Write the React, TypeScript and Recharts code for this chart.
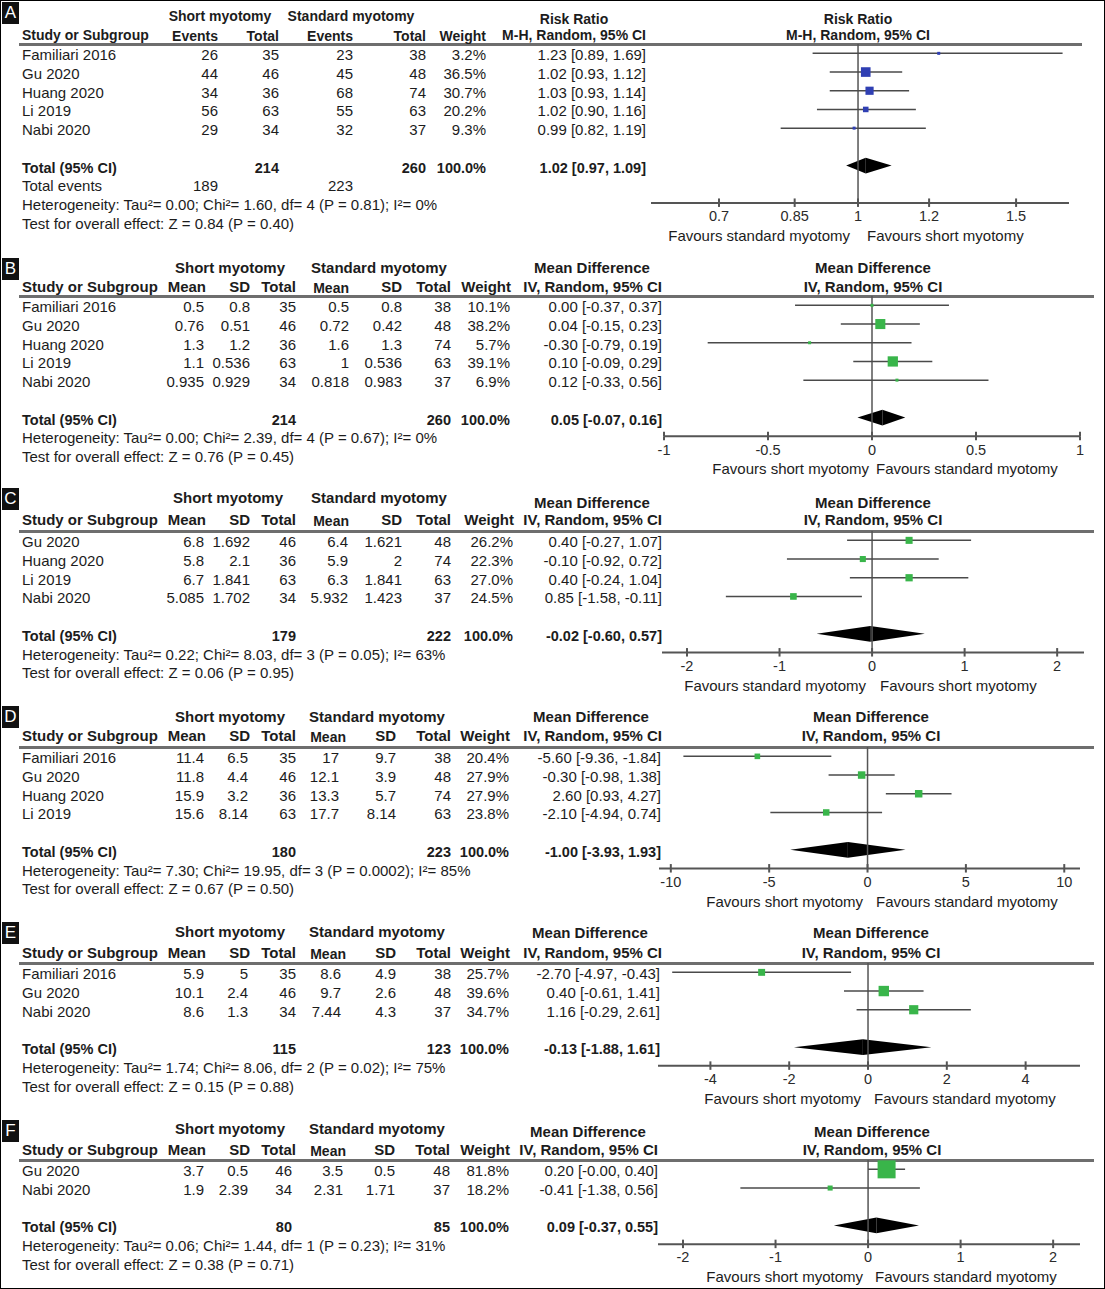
import React from "react";
import {
  ComposedChart,
  XAxis,
  YAxis,
  Scatter,
  ErrorBar,
  ReferenceLine,
  ReferenceArea
} from "recharts";

const FONT = '"Liberation Sans", Arial, Helvetica, sans-serif';
const STEP = 18.7;

// ---------- A: risk ratio ----------
const studiesA = ["Familiari 2016", "Gu 2020", "Huang 2020", "Li 2019", "Nabi 2020"];
const shortEventsA = [26, 44, 34, 56, 29];
const shortTotalA = [35, 46, 36, 63, 34];
const stdEventsA = [23, 45, 68, 55, 32];
const stdTotalA = [38, 48, 74, 63, 37];
const weightA = [3.2, 36.5, 30.7, 20.2, 9.3];
const estA = [1.23, 1.02, 1.03, 1.02, 0.99];
const loA = [0.89, 0.93, 0.93, 0.9, 0.82];
const hiA = [1.69, 1.12, 1.14, 1.16, 1.19];
const ciTextA = ["1.23 [0.89, 1.69]", "1.02 [0.93, 1.12]", "1.03 [0.93, 1.14]", "1.02 [0.90, 1.16]", "0.99 [0.82, 1.19]"];
const totalA = { n1: 214, n2: 260, ev1: 189, ev2: 223, est: 1.02, lo: 0.97, hi: 1.09, text: "1.02 [0.97, 1.09]" };
const hetA = "Heterogeneity: Tau²= 0.00; Chi²= 1.60, df= 4 (P = 0.81); I²= 0%";
const testA = "Test for overall effect: Z = 0.84 (P = 0.40)";
const ticksA = [0.7, 0.85, 1, 1.2, 1.5];

// ---------- B ----------
const studiesB = ["Familiari 2016", "Gu 2020", "Huang 2020", "Li 2019", "Nabi 2020"];
const mean1B = ["0.5", "0.76", "1.3", "1.1", "0.935"];
const sd1B = ["0.8", "0.51", "1.2", "0.536", "0.929"];
const n1B = [35, 46, 36, 63, 34];
const mean2B = ["0.5", "0.72", "1.6", "1", "0.818"];
const sd2B = ["0.8", "0.42", "1.3", "0.536", "0.983"];
const n2B = [38, 48, 74, 63, 37];
const weightB = [10.1, 38.2, 5.7, 39.1, 6.9];
const estB = [0.0, 0.04, -0.3, 0.1, 0.12];
const loB = [-0.37, -0.15, -0.79, -0.09, -0.33];
const hiB = [0.37, 0.23, 0.19, 0.29, 0.56];
const ciTextB = ["0.00 [-0.37, 0.37]", "0.04 [-0.15, 0.23]", "-0.30 [-0.79, 0.19]", "0.10 [-0.09, 0.29]", "0.12 [-0.33, 0.56]"];
const totalB = { n1: 214, n2: 260, est: 0.05, lo: -0.07, hi: 0.16, text: "0.05 [-0.07, 0.16]" };
const hetB = "Heterogeneity: Tau²= 0.00; Chi²= 2.39, df= 4 (P = 0.67); I²= 0%";
const testB = "Test for overall effect: Z = 0.76 (P = 0.45)";
const ticksB = [-1, -0.5, 0, 0.5, 1];

// ---------- C ----------
const studiesC = ["Gu 2020", "Huang 2020", "Li 2019", "Nabi 2020"];
const mean1C = ["6.8", "5.8", "6.7", "5.085"];
const sd1C = ["1.692", "2.1", "1.841", "1.702"];
const n1C = [46, 36, 63, 34];
const mean2C = ["6.4", "5.9", "6.3", "5.932"];
const sd2C = ["1.621", "2", "1.841", "1.423"];
const n2C = [48, 74, 63, 37];
const weightC = [26.2, 22.3, 27.0, 24.5];
const estC = [0.4, -0.1, 0.4, -0.85];
const loC = [-0.27, -0.92, -0.24, -1.58];
const hiC = [1.07, 0.72, 1.04, -0.11];
const ciTextC = ["0.40 [-0.27, 1.07]", "-0.10 [-0.92, 0.72]", "0.40 [-0.24, 1.04]", "0.85 [-1.58, -0.11]"];
const totalC = { n1: 179, n2: 222, est: -0.02, lo: -0.6, hi: 0.57, text: "-0.02 [-0.60, 0.57]" };
const hetC = "Heterogeneity: Tau²= 0.22; Chi²= 8.03, df= 3 (P = 0.05); I²= 63%";
const testC = "Test for overall effect: Z = 0.06 (P = 0.95)";
const ticksC = [-2, -1, 0, 1, 2];

// ---------- D ----------
const studiesD = ["Familiari 2016", "Gu 2020", "Huang 2020", "Li 2019"];
const mean1D = ["11.4", "11.8", "15.9", "15.6"];
const sd1D = ["6.5", "4.4", "3.2", "8.14"];
const n1D = [35, 46, 36, 63];
const mean2D = ["17", "12.1", "13.3", "17.7"];
const sd2D = ["9.7", "3.9", "5.7", "8.14"];
const n2D = [38, 48, 74, 63];
const weightD = [20.4, 27.9, 27.9, 23.8];
const estD = [-5.6, -0.3, 2.6, -2.1];
const loD = [-9.36, -1.98, 0.93, -4.94];
const hiD = [-1.84, 1.38, 4.27, 0.74];
const ciTextD = ["-5.60 [-9.36, -1.84]", "-0.30 [-0.98, 1.38]", "2.60 [0.93, 4.27]", "-2.10 [-4.94, 0.74]"];
const totalD = { n1: 180, n2: 223, est: -1.0, lo: -3.93, hi: 1.93, text: "-1.00 [-3.93, 1.93]" };
const hetD = "Heterogeneity: Tau²= 7.30; Chi²= 19.95, df= 3 (P = 0.0002); I²= 85%";
const testD = "Test for overall effect: Z = 0.67 (P = 0.50)";
const ticksD = [-10, -5, 0, 5, 10];

// ---------- E ----------
const studiesE = ["Familiari 2016", "Gu 2020", "Nabi 2020"];
const mean1E = ["5.9", "10.1", "8.6"];
const sd1E = ["5", "2.4", "1.3"];
const n1E = [35, 46, 34];
const mean2E = ["8.6", "9.7", "7.44"];
const sd2E = ["4.9", "2.6", "4.3"];
const n2E = [38, 48, 37];
const weightE = [25.7, 39.6, 34.7];
const estE = [-2.7, 0.4, 1.16];
const loE = [-4.97, -0.61, -0.29];
const hiE = [-0.43, 1.41, 2.61];
const ciTextE = ["-2.70 [-4.97, -0.43]", "0.40 [-0.61, 1.41]", "1.16 [-0.29, 2.61]"];
const totalE = { n1: 115, n2: 123, est: -0.13, lo: -1.88, hi: 1.61, text: "-0.13 [-1.88, 1.61]" };
const hetE = "Heterogeneity: Tau²= 1.74; Chi²= 8.06, df= 2 (P = 0.02); I²= 75%";
const testE = "Test for overall effect: Z = 0.15 (P = 0.88)";
const ticksE = [-4, -2, 0, 2, 4];

// ---------- F ----------
const studiesF = ["Gu 2020", "Nabi 2020"];
const mean1F = ["3.7", "1.9"];
const sd1F = ["0.5", "2.39"];
const n1F = [46, 34];
const mean2F = ["3.5", "2.31"];
const sd2F = ["0.5", "1.71"];
const n2F = [48, 37];
const weightF = [81.8, 18.2];
const estF = [0.2, -0.41];
const loF = [0.0, -1.38];
const hiF = [0.4, 0.56];
const ciTextF = ["0.20 [-0.00, 0.40]", "-0.41 [-1.38, 0.56]"];
const totalF = { n1: 80, n2: 85, est: 0.09, lo: -0.37, hi: 0.55, text: "0.09 [-0.37, 0.55]" };
const hetF = "Heterogeneity: Tau²= 0.06; Chi²= 1.44, df= 1 (P = 0.23); I²= 31%";
const testF = "Test for overall effect: Z = 0.38 (P = 0.71)";
const ticksF = [-2, -1, 0, 1, 2];

const FAV_SHORT = "Favours short myotomy";
const FAV_STD = "Favours standard myotomy";

type Align = "left" | "right" | "center";

function T({ x, y, a = "left", b = false, s = 15, children }: { x: number; y: number; a?: Align; b?: boolean; s?: number; children: React.ReactNode }) {
  const style: React.CSSProperties = {
    position: "absolute",
    top: y - 10,
    height: 20,
    lineHeight: "20px",
    fontSize: s,
    fontWeight: b ? "bold" : "normal",
    whiteSpace: "nowrap",
    color: "#1c1c1c"
  };
  if (a === "left") style.left = x;
  else if (a === "right") {
    style.left = x - 400;
    style.width = 400;
    style.textAlign = "right";
  } else {
    style.left = x - 200;
    style.width = 400;
    style.textAlign = "center";
  }
  return <div style={style}>{children}</div>;
}

function Letter({ y, letter }: { y: number; letter: string }) {
  return (
    <div
      style={{
        position: "absolute",
        left: 1,
        top: y,
        width: 17,
        height: 22,
        background: "#111",
        color: "#fff",
        fontSize: 17,
        lineHeight: "22px",
        textAlign: "center"
      }}
    >
      {letter}
    </div>
  );
}

const squareSize = (w: number) => Math.min(18, Math.max(3, 0.25 * w + 0.5));

const makeSquare = (color: string) => (props: any) => {
  const { cx, cy, payload } = props;
  if (cx == null || cy == null) return null;
  const s = payload.size;
  return <rect x={cx - s / 2} y={cy - s / 2} width={s} height={s} fill={color} />;
};

function norm(props: any) {
  const x = Math.min(props.x, props.x + props.width);
  const y = Math.min(props.y, props.y + props.height);
  return { x, y, w: Math.abs(props.width), h: Math.abs(props.height) };
}

const leftTri = (props: any) => {
  const { x, y, w, h } = norm(props);
  return <polygon points={`${x},${y + h / 2} ${x + w},${y} ${x + w},${y + h}`} fill="#000" />;
};
const rightTri = (props: any) => {
  const { x, y, w, h } = norm(props);
  return <polygon points={`${x},${y} ${x + w},${y + h / 2} ${x},${y + h}`} fill="#000" />;
};

type PlotSpec = {
  ruleY: number;
  axisIdx: number;
  px: [number, number];
  domain: [number, number];
  log?: boolean;
  ticks: number[];
  nullVal: number;
  color: string;
  est: number[];
  lo: number[];
  hi: number[];
  weight: number[];
  total: { est: number; lo: number; hi: number };
};

function ForestPlot({ p }: { p: PlotSpec }) {
  const left = 640;
  const width = 460;
  const plotH = (p.axisIdx + 0.5) * STEP;
  const n = p.est.length;
  const totalIdx = n + 1;
  const pts = p.est.map((e, i) => ({
    x: e,
    y: i,
    err: [e - p.lo[i], p.hi[i] - e],
    size: squareSize(p.weight[i])
  }));
  return (
    <div style={{ position: "absolute", left, top: p.ruleY }}>
      <ComposedChart
        width={width}
        height={plotH + 28}
        margin={{ top: 0, right: left + width - p.px[1], bottom: 0, left: p.px[0] - left }}
      >
        <XAxis
          type="number"
          dataKey="x"
          scale={p.log ? "log" : "linear"}
          domain={p.domain}
          ticks={p.ticks}
          interval={0}
          allowDataOverflow
          height={28}
          tickSize={4}
          tickMargin={4}
          axisLine={{ stroke: "#555", strokeWidth: 2 }}
          tickLine={{ stroke: "#555", strokeWidth: 2 }}
          tick={{ fill: "#2a2a2a", fontSize: 14.5, fontFamily: FONT }}
          tickFormatter={(v: number) => String(v)}
        />
        <YAxis type="number" dataKey="y" domain={[-0.5, p.axisIdx]} reversed hide allowDataOverflow width={0} />
        <ReferenceLine x={p.nullVal} stroke="#555" strokeWidth={1.5} />
        {p.ticks.map((t) => (
          <ReferenceLine
            key={t}
            segment={[
              { x: t, y: p.axisIdx - 0.24 },
              { x: t, y: p.axisIdx }
            ]}
            stroke="#555"
            strokeWidth={2}
          />
        ))}
        <ReferenceArea x1={p.total.lo} x2={p.total.est} y1={totalIdx - 0.42} y2={totalIdx + 0.42} shape={leftTri} />
        <ReferenceArea x1={p.total.est} x2={p.total.hi} y1={totalIdx - 0.42} y2={totalIdx + 0.42} shape={rightTri} />
        <Scatter data={pts} dataKey="y" shape={makeSquare(p.color)} isAnimationActive={false}>
          <ErrorBar dataKey="err" direction="x" width={0} stroke="#4a4a4a" strokeWidth={1.5} isAnimationActive={false} />
        </Scatter>
      </ComposedChart>
    </div>
  );
}

type PanelLayout = {
  letter: string;
  letterY: number;
  ruleY: number;
  ruleEnd: number;
  axisIdx: number;
  h1Y: number;
  methodY: number;
  h2Y: number;
  shortX: number;
  stdX: number;
  methodX: number;
  titleX: number;
  favLeft: string;
  favLeftEnd: number;
  favRight: string;
  favRightStart: number;
  headS: number;
};

function Frame({ L, method, methodSub }: { L: PanelLayout; method: string; methodSub: string }) {
  const axisY = L.ruleY + (L.axisIdx + 0.5) * STEP;
  return (
    <>
      <Letter y={L.letterY} letter={L.letter} />
      <div style={{ position: "absolute", left: 18, top: L.ruleY - 1.5, width: L.ruleEnd - 18, height: 3, background: "#6e6e6e" }} />
      <T x={L.shortX} y={L.h1Y} a="center" b s={L.headS}>Short myotomy</T>
      <T x={L.stdX} y={L.h1Y} a="center" b s={L.headS}>Standard myotomy</T>
      <T x={L.methodX} y={L.methodY} a="center" b s={L.headS}>{method}</T>
      <T x={L.titleX} y={L.methodY} a="center" b s={L.headS}>{method}</T>
      <T x={L.titleX} y={L.h2Y} a="center" b s={L.headS}>{methodSub}</T>
      <T x={21} y={L.h2Y} b s={L.headS}>Study or Subgroup</T>
      <T x={L.favLeftEnd} y={axisY + 33} a="right">{L.favLeft}</T>
      <T x={L.favRightStart} y={axisY + 33}>{L.favRight}</T>
    </>
  );
}

const rowY = (L: PanelLayout, i: number) => L.ruleY + (i + 0.5) * STEP + 2;

function PanelRR() {
  const L: PanelLayout = {
    letter: "A", letterY: 1, ruleY: 43, ruleEnd: 1081, axisIdx: 8, h1Y: 15, methodY: 18, h2Y: 34,
    shortX: 219, stdX: 350, methodX: 573, titleX: 857,
    favLeft: FAV_STD, favLeftEnd: 849, favRight: FAV_SHORT, favRightStart: 866, headS: 14
  };
  const cols = [217, 278, 352, 425, 485, 645];
  const heads = ["Events", "Total", "Events", "Total", "Weight", "M-H, Random, 95% CI"];
  const n = studiesA.length;
  const ti = n + 1;
  return (
    <>
      <Frame L={L} method="Risk Ratio" methodSub="M-H, Random, 95% CI" />
      {heads.map((h, j) => (
        <T key={j} x={cols[j]} y={L.h2Y + (j === 5 ? 0 : 1)} a="right" b s={14}>{h}</T>
      ))}
      {studiesA.map((s, i) => {
        const cells = [shortEventsA[i], shortTotalA[i], stdEventsA[i], stdTotalA[i], weightA[i].toFixed(1) + "%", ciTextA[i]];
        return (
          <React.Fragment key={s}>
            <T x={21} y={rowY(L, i)}>{s}</T>
            {cells.map((c, j) => (
              <T key={j} x={cols[j]} y={rowY(L, i)} a="right">{c}</T>
            ))}
          </React.Fragment>
        );
      })}
      <T x={21} y={rowY(L, ti)} b s={14.5}>Total (95% CI)</T>
      <T x={cols[1]} y={rowY(L, ti)} a="right" b s={14.5}>{totalA.n1}</T>
      <T x={cols[3]} y={rowY(L, ti)} a="right" b s={14.5}>{totalA.n2}</T>
      <T x={cols[4]} y={rowY(L, ti)} a="right" b s={14.5}>100.0%</T>
      <T x={cols[5]} y={rowY(L, ti)} a="right" b s={14.5}>{totalA.text}</T>
      <T x={21} y={rowY(L, ti + 1)}>Total events</T>
      <T x={cols[0]} y={rowY(L, ti + 1)} a="right">{totalA.ev1}</T>
      <T x={cols[2]} y={rowY(L, ti + 1)} a="right">{totalA.ev2}</T>
      <T x={21} y={rowY(L, ti + 2)}>{hetA}</T>
      <T x={21} y={rowY(L, ti + 3)}>{testA}</T>
      <ForestPlot
        p={{
          ruleY: L.ruleY, axisIdx: L.axisIdx, px: [650, 1068], domain: [0.588, 1.718], log: true,
          ticks: ticksA, nullVal: 1, color: "#2f3fb3",
          est: estA, lo: loA, hi: hiA, weight: weightA, total: totalA
        }}
      />
    </>
  );
}

type MDData = {
  studies: string[];
  mean1: string[]; sd1: string[]; n1: number[];
  mean2: string[]; sd2: string[]; n2: number[];
  weight: number[]; est: number[]; lo: number[]; hi: number[]; ciText: string[];
  total: { n1: number; n2: number; est: number; lo: number; hi: number; text: string };
  het: string; test: string; ticks: number[];
};

function PanelMD({ L, d, cols, heads, px, domain }: { L: PanelLayout; d: MDData; cols: number[]; heads: number[]; px: [number, number]; domain: [number, number] }) {
  const headText = ["Mean", "SD", "Total", "Mean", "SD", "Total", "Weight", "IV, Random, 95% CI"];
  const n = d.studies.length;
  const ti = n + 1;
  return (
    <>
      <Frame L={L} method="Mean Difference" methodSub="IV, Random, 95% CI" />
      {headText.map((h, j) => (
        <T key={j} x={heads[j]} y={L.h2Y + (j === 3 ? 1 : 0)} a="right" b s={j === 3 ? 14 : L.headS}>{h}</T>
      ))}
      {d.studies.map((s, i) => {
        const cells = [d.mean1[i], d.sd1[i], d.n1[i], d.mean2[i], d.sd2[i], d.n2[i], d.weight[i].toFixed(1) + "%", d.ciText[i]];
        return (
          <React.Fragment key={s}>
            <T x={21} y={rowY(L, i)}>{s}</T>
            {cells.map((c, j) => (
              <T key={j} x={cols[j]} y={rowY(L, i)} a="right">{c}</T>
            ))}
          </React.Fragment>
        );
      })}
      <T x={21} y={rowY(L, ti)} b s={14.5}>Total (95% CI)</T>
      <T x={cols[2]} y={rowY(L, ti)} a="right" b s={14.5}>{d.total.n1}</T>
      <T x={cols[5]} y={rowY(L, ti)} a="right" b s={14.5}>{d.total.n2}</T>
      <T x={cols[6]} y={rowY(L, ti)} a="right" b s={14.5}>100.0%</T>
      <T x={cols[7]} y={rowY(L, ti)} a="right" b s={14.5}>{d.total.text}</T>
      <T x={21} y={rowY(L, ti + 1)}>{d.het}</T>
      <T x={21} y={rowY(L, ti + 2)}>{d.test}</T>
      <ForestPlot
        p={{
          ruleY: L.ruleY, axisIdx: L.axisIdx, px, domain, ticks: d.ticks, nullVal: 0, color: "#39b54a",
          est: d.est, lo: d.lo, hi: d.hi, weight: d.weight, total: d.total
        }}
      />
    </>
  );
}

const dataB: MDData = { studies: studiesB, mean1: mean1B, sd1: sd1B, n1: n1B, mean2: mean2B, sd2: sd2B, n2: n2B, weight: weightB, est: estB, lo: loB, hi: hiB, ciText: ciTextB, total: totalB, het: hetB, test: testB, ticks: ticksB };
const dataC: MDData = { studies: studiesC, mean1: mean1C, sd1: sd1C, n1: n1C, mean2: mean2C, sd2: sd2C, n2: n2C, weight: weightC, est: estC, lo: loC, hi: hiC, ciText: ciTextC, total: totalC, het: hetC, test: testC, ticks: ticksC };
const dataD: MDData = { studies: studiesD, mean1: mean1D, sd1: sd1D, n1: n1D, mean2: mean2D, sd2: sd2D, n2: n2D, weight: weightD, est: estD, lo: loD, hi: hiD, ciText: ciTextD, total: totalD, het: hetD, test: testD, ticks: ticksD };
const dataE: MDData = { studies: studiesE, mean1: mean1E, sd1: sd1E, n1: n1E, mean2: mean2E, sd2: sd2E, n2: n2E, weight: weightE, est: estE, lo: loE, hi: hiE, ciText: ciTextE, total: totalE, het: hetE, test: testE, ticks: ticksE };
const dataF: MDData = { studies: studiesF, mean1: mean1F, sd1: sd1F, n1: n1F, mean2: mean2F, sd2: sd2F, n2: n2F, weight: weightF, est: estF, lo: loF, hi: hiF, ciText: ciTextF, total: totalF, het: hetF, test: testF, ticks: ticksF };

const base = { ruleEnd: 1093, shortX: 229, stdX: 378, headS: 15 };

export default function App() {
  return (
    <div
      style={{
        position: "absolute",
        left: 0,
        top: 0,
        width: 1105,
        height: 1289,
        boxSizing: "border-box",
        border: "1px solid #000",
        background: "#fff",
        fontFamily: FONT,
        overflow: "hidden"
      }}
    >
      <PanelRR />
      <PanelMD
        L={{ ...base, letter: "B", letterY: 257, ruleY: 295, axisIdx: 7, h1Y: 267, methodY: 267, h2Y: 286, methodX: 591, titleX: 872, favLeft: FAV_SHORT, favLeftEnd: 868, favRight: FAV_STD, favRightStart: 875 }}
        d={dataB}
        cols={[203, 249, 295, 348, 401, 450, 509, 661]}
        heads={[205, 249, 295, 348, 401, 450, 510, 661]}
        px={[663, 1079]}
        domain={[-1, 1]}
      />
      <PanelMD
        L={{ ...base, letter: "C", letterY: 487, ruleY: 530, axisIdx: 6, h1Y: 497, methodY: 502, h2Y: 519, shortX: 227, methodX: 591, titleX: 872, favLeft: FAV_STD, favLeftEnd: 865, favRight: FAV_SHORT, favRightStart: 879 }}
        d={dataC}
        cols={[203, 249, 295, 347, 401, 450, 512, 661]}
        heads={[205, 249, 295, 348, 401, 450, 513, 661]}
        px={[661, 1083]}
        domain={[-2.27, 2.29]}
      />
      <PanelMD
        L={{ ...base, letter: "D", letterY: 705, ruleY: 746, axisIdx: 6, h1Y: 716, methodY: 716, h2Y: 735, stdX: 376, methodX: 590, titleX: 870, favLeft: FAV_SHORT, favLeftEnd: 862, favRight: FAV_STD, favRightStart: 875 }}
        d={dataD}
        cols={[203, 247, 295, 338, 395, 450, 508, 660]}
        heads={[205, 249, 295, 345, 395, 450, 509, 661]}
        px={[658, 1079]}
        domain={[-10.6, 10.8]}
      />
      <PanelMD
        L={{ ...base, letter: "E", letterY: 921, ruleY: 962, axisIdx: 5, h1Y: 931, methodY: 932, h2Y: 952, stdX: 376, methodX: 589, titleX: 870, favLeft: FAV_SHORT, favLeftEnd: 860, favRight: FAV_STD, favRightStart: 873 }}
        d={dataE}
        cols={[203, 247, 295, 340, 395, 450, 508, 659]}
        heads={[205, 249, 295, 345, 395, 450, 509, 661]}
        px={[657, 1079]}
        domain={[-5.33, 5.38]}
      />
      <PanelMD
        L={{ ...base, letter: "F", letterY: 1119, ruleY: 1159, axisIdx: 4, h1Y: 1128, methodY: 1131, h2Y: 1149, stdX: 376, methodX: 587, titleX: 871, favLeft: FAV_SHORT, favLeftEnd: 862, favRight: FAV_STD, favRightStart: 874 }}
        d={dataF}
        cols={[203, 247, 291, 342, 394, 449, 508, 657]}
        heads={[205, 249, 295, 345, 394, 449, 509, 657]}
        px={[657, 1079]}
        domain={[-2.27, 2.29]}
      />
    </div>
  );
}
